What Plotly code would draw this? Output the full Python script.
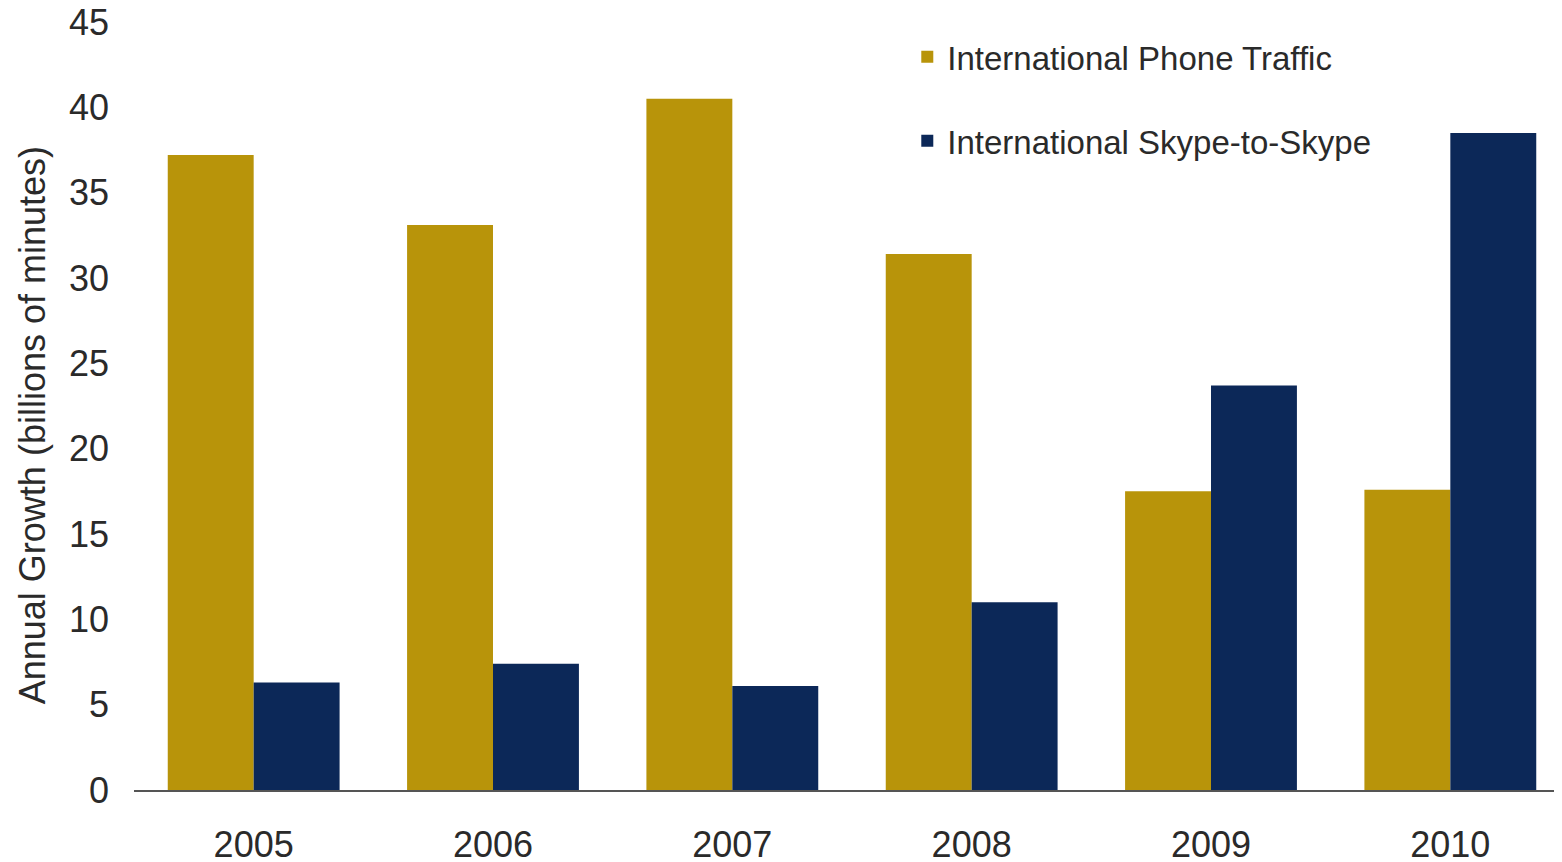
import plotly.graph_objects as go

years = ["2005", "2006", "2007", "2008", "2009", "2010"]
phone_traffic = [37.2, 33.1, 40.5, 31.4, 17.5, 17.6]
skype_to_skype = [6.3, 7.4, 6.1, 11.0, 23.7, 38.5]
y_ticks = [0, 5, 10, 15, 20, 25, 30, 35, 40, 45]

GOLD = "#B8940A"
NAVY = "#0C2858"
FONT = "Liberation Sans, Arial, sans-serif"

fig = go.Figure()
fig.add_trace(go.Bar(x=years, y=phone_traffic, name="International Phone Traffic",
                     marker=dict(color=GOLD, line=dict(width=0)), legendgroup="a"))
fig.add_trace(go.Bar(x=years, y=skype_to_skype, name="International Skype-to-Skype",
                     marker=dict(color=NAVY, line=dict(width=0)), legendgroup="b"))

# the page adds an 8px body margin, so the margins compensate for it
fig.update_layout(
    width=1562, height=862,
    margin=dict(l=126, r=0, t=14, b=80, autoexpand=False),
    paper_bgcolor="white", plot_bgcolor="white",
    barmode="group", bargap=0.282, bargroupgap=0,
    font=dict(family=FONT, color="#2a2a2a", size=33),
    showlegend=True,
    legend=dict(x=0.5385, y=0.991, xanchor="left", yanchor="top",
                traceorder="grouped", tracegroupgap=38,
                font=dict(size=33, color="#2a2a2a"),
                bgcolor="rgba(0,0,0,0)", itemwidth=30),
    xaxis=dict(showgrid=False, showline=True, linecolor="#555555", linewidth=1.5,
               ticks="", tickfont=dict(size=36), ticklabelstandoff=22,
               ticklabeloverflow="allow", automargin=False),
    yaxis=dict(range=[0, 45], tickvals=y_ticks, showgrid=False, zeroline=False,
               showline=False, ticks="", tickfont=dict(size=36),
               ticklabelstandoff=24, ticklabeloverflow="allow", automargin=False),
    annotations=[dict(text="Annual Growth (billions of minutes)", textangle=-90,
                      xref="paper", yref="paper", x=-0.071, y=0.475,
                      xanchor="center", yanchor="middle", showarrow=False,
                      font=dict(size=36, color="#2a2a2a"))],
)

fig.write_html("out.html")
